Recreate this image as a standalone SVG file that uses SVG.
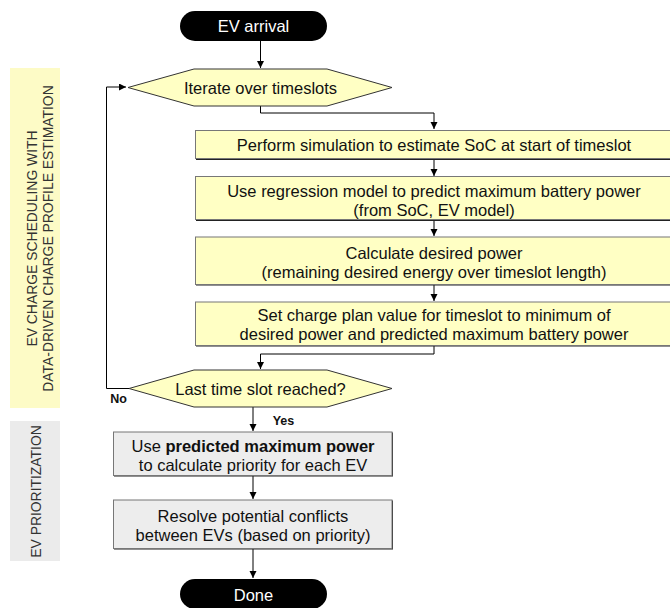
<svg xmlns="http://www.w3.org/2000/svg" width="670" height="608" viewBox="0 0 670 608">
<defs>
<marker id="ah" markerWidth="8" markerHeight="8" refX="7" refY="3.5" orient="auto" markerUnits="userSpaceOnUse">
<path d="M0,0 L7,3.5 L0,7 Z" fill="#000"/>
</marker>
<style>
text{font-family:"Liberation Sans",Arial,sans-serif;font-size:16.5px;fill:#111;text-anchor:middle}
.band{font-size:13.9px;fill:#333}
.lbl{font-size:12.5px;font-weight:bold}
.wt{fill:#fff}
.pill{fill:#000}
.ybox{fill:#ffffc4;stroke:#777;stroke-width:1}
.gbox{fill:#ededed;stroke:#777;stroke-width:1}
.sh{fill:#222}
.con{fill:none;stroke:#000;stroke-width:1}
</style>
</defs>
<rect x="0" y="0" width="670" height="608" fill="#fff"/>

<g id="band-scheduling">
<rect x="10" y="68" width="50" height="340" fill="#fdfbc6"/>
<text class="band" transform="translate(36.5,238.5) rotate(-90)">EV CHARGE SCHEDULING WITH</text>
<text class="band" transform="translate(52.5,238.5) rotate(-90)">DATA-DRIVEN CHARGE PROFILE ESTIMATION</text>
</g>
<g id="band-prioritization">
<rect x="10" y="421" width="50" height="140" fill="#ebebeb"/>
<text class="band" transform="translate(40.5,491.5) rotate(-90)">EV PRIORITIZATION</text>
</g>

<g id="connectors">
<path class="con" d="M260.5,41 V68" marker-end="url(#ah)"/>
<path class="con" d="M260.5,106 V113 H434 V129" marker-end="url(#ah)"/>
<path class="con" d="M434,159 V176" marker-end="url(#ah)"/>
<path class="con" d="M434,220 V236" marker-end="url(#ah)"/>
<path class="con" d="M434,285 V301" marker-end="url(#ah)"/>
<path class="con" d="M434,346 V354 H260.5 V369" marker-end="url(#ah)"/>
<path class="con" d="M129,388.5 H106.5 V87 H126" marker-end="url(#ah)"/>
<path class="con" d="M253,407 V431" marker-end="url(#ah)"/>
<path class="con" d="M253,476 V499" marker-end="url(#ah)"/>
<path class="con" d="M253,549 V578" marker-end="url(#ah)"/>
<text class="lbl" x="118.5" y="403">No</text>
<text class="lbl" x="283.5" y="425">Yes</text>
</g>

<g id="ev-arrival">
<rect class="pill" x="180" y="11" width="147" height="30" rx="15"/>
<text class="wt" x="253.5" y="32">EV arrival</text>
</g>

<g id="iterate">
<polygon points="128,87.5 194,69 327,69 392,87.5 327,106 194,106" fill="#ffffc4" stroke="#333" stroke-width="1"/>
<text x="260.5" y="93.5">Iterate over timeslots</text>
</g>

<g id="simulate">
<rect class="sh" x="196" y="131" width="478" height="29"/>
<rect class="ybox" x="195.5" y="130.5" width="478" height="28"/>
<text x="434" y="150.5">Perform simulation to estimate SoC at start of timeslot</text>
</g>

<g id="regression">
<rect class="sh" x="196" y="177" width="478" height="44"/>
<rect class="ybox" x="195.5" y="176.5" width="478" height="43"/>
<text x="434" y="196.5">Use regression model to predict maximum battery power</text>
<text x="434" y="215.5">(from SoC, EV model)</text>
</g>

<g id="desired-power">
<rect class="sh" x="196" y="237.5" width="478" height="48"/>
<rect class="ybox" x="195.5" y="237" width="478" height="47.5"/>
<text x="434" y="258.5">Calculate desired power</text>
<text x="434" y="277.5">(remaining desired energy over timeslot length)</text>
</g>

<g id="charge-plan">
<rect class="sh" x="196" y="302.5" width="478" height="44"/>
<rect class="ybox" x="195.5" y="302" width="478" height="43.5"/>
<text x="434" y="320.5">Set charge plan value for timeslot to minimum of</text>
<text x="434" y="339.5">desired power and predicted maximum battery power</text>
</g>

<g id="last-slot">
<polygon points="129,388.5 194,370 327,370 392,388.5 327,407 194,407" fill="#ffffc4" stroke="#333" stroke-width="1"/>
<text x="260.5" y="395">Last time slot reached?</text>
</g>

<g id="priority">
<rect class="sh" x="114" y="432.5" width="279" height="44"/>
<rect class="gbox" x="113.5" y="432" width="278.5" height="43.5"/>
<text x="253" y="451.5">Use <tspan font-weight="bold">predicted maximum power</tspan></text>
<text x="253" y="470.5">to calculate priority for each EV</text>
</g>

<g id="resolve">
<rect class="sh" x="114" y="500.5" width="279" height="49"/>
<rect class="gbox" x="113.5" y="500" width="278.5" height="48.5"/>
<text x="253" y="521.5">Resolve potential conflicts</text>
<text x="253" y="540.5">between EVs (based on priority)</text>
</g>

<g id="done">
<rect class="pill" x="180" y="579" width="147" height="30" rx="15"/>
<text class="wt" x="253.5" y="600.5">Done</text>
</g>
</svg>
